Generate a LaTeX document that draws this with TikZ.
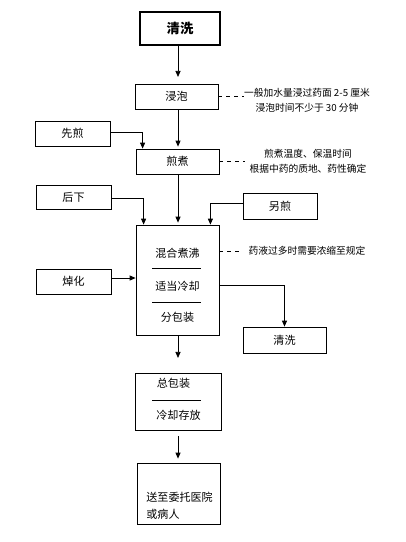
\documentclass[tikz,border=0pt]{standalone}
\usepackage{fontspec}
\setmainfont{Noto Sans CJK SC}
\usetikzlibrary{arrows.meta,positioning}

\begin{document}
\begin{tikzpicture}[
  x=0.75pt, y=-0.75pt,
  box/.style={rectangle, draw, line width=0.6pt, inner sep=0pt,
    minimum width=62.25pt, minimum height=18.75pt, font=\fontsize{8.3}{10}\selectfont},
  side/.style={box, minimum width=56.25pt},
  note/.style={align=center, inner sep=0pt, font=\fontsize{7.3}{11.5}\selectfont},
  txt/.style={inner sep=0pt, font=\fontsize{8.3}{10}\selectfont},
  >={Triangle[length=4.5pt,width=3.8pt]}, line width=0.6pt
]
\useasboundingbox (0,0) rectangle (406,542);
% main column
\node[box, line width=0.9pt, minimum width=60pt, minimum height=24.75pt,
  font=\fontsize{10}{12}\selectfont\bfseries] (wash) at (180,28.5) {清洗};
\node[box] (soak) at (176.5,96.5) {浸泡};
\node[box] (decoct) at (177.5,161.5) {煎煮};
\node[box, minimum height=82.5pt] (mix) at (177.5,280) {};
\node[box, minimum width=64.5pt, minimum height=42.75pt] (pack) at (178,401.5) {};
\node[box, minimum height=45.75pt] (send) at (178.5,493.5) {};
% side boxes
\node[side] (first) at (72.5,133.5) {先煎};
\node[side, minimum height=18pt] (later) at (73.5,197) {后下};
\node[side] (blanch) at (73.5,281.5) {焯化};
\node[side, minimum width=55.5pt, minimum height=19.5pt] (other) at (280,206) {另煎};
\node[box, minimum height=19.5pt] (wash2) at (284.5,340) {清洗};
% texts inside boxes
\node[txt] (boil) at (177.5,253) {混合煮沸};
\node[txt] (cool) at (177.5,286) {适当冷却};
\node[txt] (split) at (177.5,317) {分包装};
\draw (152,268) -- (201,268);
\draw (152,302) -- (201,302);
\node[txt] (total) at (173.5,383) {总包装};
\node[txt] (store) at (178.5,415) {冷却存放};
\draw (152,400) -- (201,400);
\node[txt, align=left, anchor=west, font=\fontsize{8.3}{12.75}\selectfont] (to) at (146,505.5) {送至委托医院\\或病人};
% notes
\node[note] (n1) at (307,100) {一般加水量浸过药面 2-5 厘米\\浸泡时间不少于 30 分钟};
\node[note] (n2) at (308,161) {煎煮温度、保温时间\\根据中药的质地、药性确定};
\node[note] (n3) at (307,251) {药液过多时需要浓缩至规定};
\draw[dashed] (soak.east) -- (soak.east -| n1.west);
\draw[dashed, shorten >=3pt] (decoct.east) -- (decoct.east -| n2.west);
\draw[dashed, shorten >=5pt] (mix.east |- n3.west) -- (n3.west);
% arrows
\draw[->, shorten >=5pt] (wash.south -| 178,0) -- (178,0 |- soak.north);
\draw[->, shorten >=1.5pt] (soak.south -| 178,0) -- (178,0 |- decoct.north);
\draw[->, shorten >=1.5pt] (decoct.south -| 178,0) -- (178,0 |- mix.north);
\draw[->, shorten >=11pt] (mix.south -| 178,0) -- (178,0 |- pack.north);
\draw[->, shorten <=4.5pt, shorten >=3pt] (pack.south -| 178,0) -- (178,0 |- send.north);
\draw[->] (first.east |- 0,132) -| ([shift={(7,0)}]decoct.north west);
\draw[->] (later.east |- 0,198) -| ([shift={(8,0)}]mix.north west);
\draw[->] (other.west |- 0,203) -| ([shift={(-9,0)}]mix.north east);
\draw[->] (blanch.east |- 0,278) -- (mix.west |- 0,278);
\draw[->] ([shift={(0,5)}]mix.east) -| (wash2.north);
\end{tikzpicture}
\end{document}
